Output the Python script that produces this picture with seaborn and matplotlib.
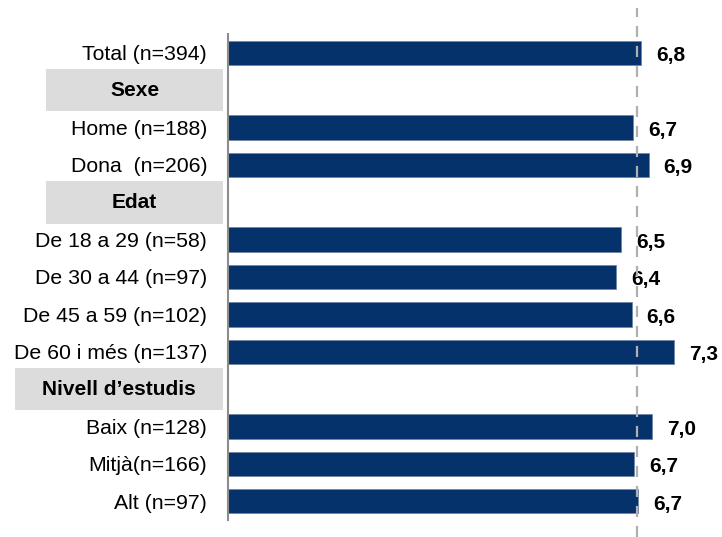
import matplotlib
matplotlib.use('Agg')
import matplotlib.pyplot as plt
import matplotlib.transforms as mtransforms
from matplotlib.patches import Rectangle
import pandas as pd
import seaborn as sns

# Row order (headers included as empty slots)
rows = ['Total (n=394)', 'Sexe', 'Home (n=188)', 'Dona  (n=206)', 'Edat',
        'De 18 a 29 (n=58)', 'De 30 a 44 (n=97)', 'De 45 a 59 (n=102)',
        'De 60 i més (n=137)', 'Nivell d\u2019estudis', 'Baix (n=128)',
        'Mitjà(n=166)', 'Alt (n=97)']
headers = ['Sexe', 'Edat', 'Nivell d\u2019estudis']

# Bar data
groups = ['Total (n=394)', 'Home (n=188)', 'Dona  (n=206)', 'De 18 a 29 (n=58)',
          'De 30 a 44 (n=97)', 'De 45 a 59 (n=102)', 'De 60 i més (n=137)',
          'Baix (n=128)', 'Mitjà(n=166)', 'Alt (n=97)']
scores = [6.79, 6.66, 6.92, 6.46, 6.38, 6.64, 7.34, 6.97, 6.68, 6.74]
ref_value = 6.73

df = pd.DataFrame({'group': groups, 'score': scores})

sns.set_style('white')
plt.rcParams['font.family'] = ['Liberation Sans', 'DejaVu Sans']
plt.rcParams['text.color'] = 'black'
plt.rcParams['ytick.color'] = 'black'

W, H = 722, 537
fig = plt.figure(figsize=(W / 100, H / 100), dpi=100)
ax_left, ax_right, ax_top, ax_bot = 228, 700, 34, 520
ax = fig.add_axes([ax_left / W, 1 - ax_bot / H, (ax_right - ax_left) / W, (ax_bot - ax_top) / H])

sns.barplot(data=df, y='group', x='score', order=rows, orient='h',
            color='#06326B', saturation=1, width=0.65, ax=ax,
            edgecolor='#6f86aa', linewidth=0.6, zorder=2)

px_per_unit = 60.8
ax.set_xlim(0, (ax_right - ax_left) / px_per_unit)
ax.set_ylim(len(rows) - 0.5, -0.5)

# value labels
for g, v in zip(groups, scores):
    y = rows.index(g)
    ax.annotate(f'{v:.1f}'.replace('.', ','), xy=(v, y), xytext=(15, -3),
                textcoords='offset pixels', ha='left', va='center',
                fontsize=15, fontweight='bold', color='black')

# reference dashed line
ax.axvline(ref_value, ymin=(ax_bot - 537) / (ax_bot - ax_top), ymax=(ax_bot - 8) / (ax_bot - ax_top),
           color='#b0b0b0', lw=1.6, dashes=(5, 4), clip_on=False, zorder=3)

# tick labels
ax.set_yticks(range(len(rows)))
ax.set_yticklabels(['' if r in headers else r for r in rows], fontsize=15.3, color='black')
ax.tick_params(axis='y', length=0, pad=15)
ax.set_xticks([])
ax.set_xlabel('')
ax.set_ylabel('')

for s in ['top', 'right', 'bottom']:
    ax.spines[s].set_visible(False)
ax.spines['left'].set_color('#8c8c8c')
ax.spines['left'].set_linewidth(1.5)

# section header boxes
trans = mtransforms.blended_transform_factory(fig.transFigure, ax.transData)
box_left = {'Sexe': 46, 'Edat': 46, 'Nivell d\u2019estudis': 15}
box_right = 223
for h in headers:
    y = rows.index(h)
    x0 = box_left[h] / W
    w = (box_right - box_left[h]) / W
    ax.add_patch(Rectangle((x0, y - 0.57), w, 1.14, transform=trans,
                           facecolor='#dcdcdc', edgecolor='none', clip_on=False, zorder=1))
    ax.text(x0 + w / 2, y, h, transform=trans, ha='center', va='center',
            fontsize=15, fontweight='bold', color='black')

fig.savefig('out.png', dpi=100)
